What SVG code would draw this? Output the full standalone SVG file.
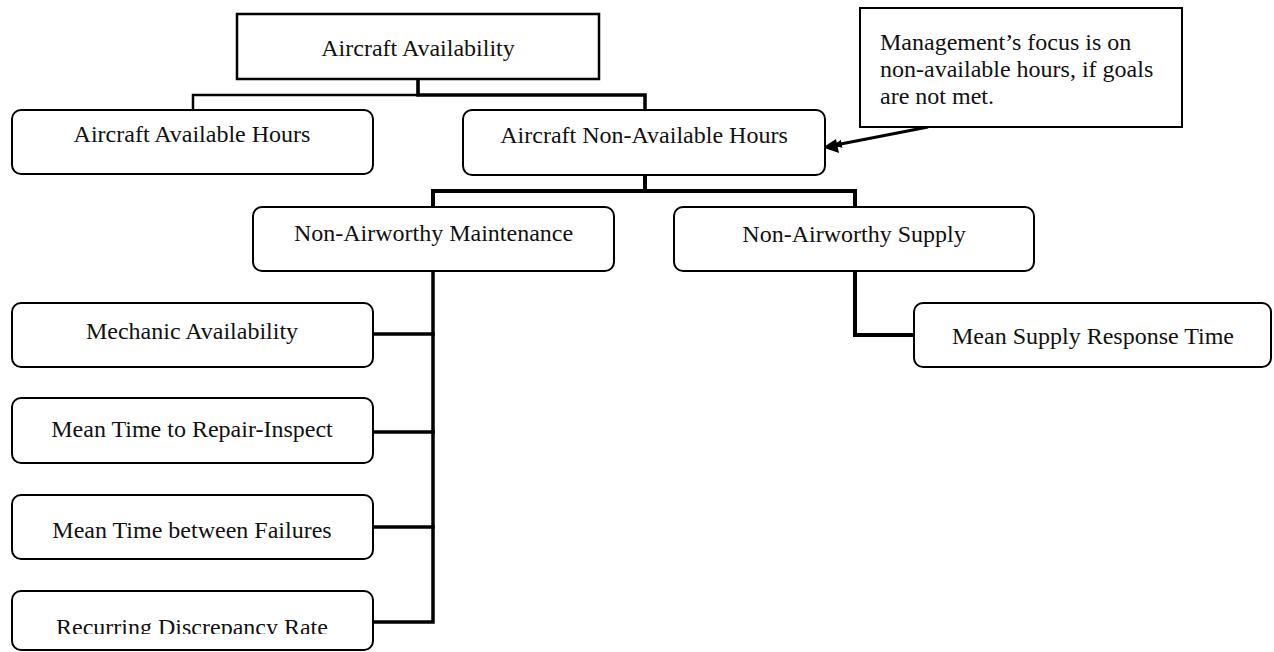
<svg xmlns="http://www.w3.org/2000/svg" width="1274" height="652" viewBox="0 0 1274 652">
<style>
.box{fill:#fff;stroke:#000;stroke-width:2}
.t{font-family:"Liberation Serif","Times New Roman",serif;font-size:24px;fill:#111;text-anchor:middle}
.tl{font-family:"Liberation Serif","Times New Roman",serif;font-size:24px;fill:#111}
.c{fill:none;stroke:#000;stroke-linejoin:miter;stroke-linecap:square}
</style>
<defs>
<marker id="ah" markerWidth="10" markerHeight="8" refX="9" refY="4" orient="auto" markerUnits="userSpaceOnUse" viewBox="0 0 10 8">
<path d="M0,0 L10,4 L0,8 Z" fill="#000"/>
</marker>
<clipPath id="clipR"><rect x="0" y="590" width="400" height="44"/></clipPath>
</defs>
<rect width="1274" height="652" fill="#fff"/>
<g id="connectors">
<path class="c" d="M418,80 V95 H193 V110" stroke-width="2.5"/>
<path class="c" d="M418,80 V95 H645 V110" stroke-width="3.5"/>
<path class="c" d="M645,176 V191 H433 V207" stroke-width="4"/>
<path class="c" d="M645,191 H855 V207" stroke-width="4"/>
<path class="c" d="M855,272 V335 H914" stroke-width="4"/>
<path class="c" d="M433,272 V622 H374" stroke-width="3.5"/>
<path class="c" d="M374,334 H433 M374,432 H433 M374,527 H433" stroke-width="3.5"/>
<line x1="928" y1="127" x2="833" y2="145.5" stroke="#000" stroke-width="3" marker-end="url(#ah)"/>
<path d="M823,147.5 L836,139 L839,153 Z" fill="#000"/>
</g>
<g id="n-availability">
<rect x="237" y="14" width="362" height="65" fill="#fff" stroke="#000" stroke-width="2.5"/>
<text class="t" x="418" y="56">Aircraft Availability</text>
</g>
<g id="n-available-hours">
<rect class="box" x="12" y="110" width="361" height="64" rx="9"/>
<text class="t" x="192" y="142">Aircraft Available Hours</text>
</g>
<g id="n-nonavailable-hours">
<rect class="box" x="463" y="110" width="362" height="65" rx="9"/>
<text class="t" x="644" y="143">Aircraft Non-Available Hours</text>
</g>
<g id="n-note">
<rect x="860" y="8" width="322" height="119" fill="#fff" stroke="#000" stroke-width="2"/>
<text class="tl" x="880" y="50">Management’s focus is on</text>
<text class="tl" x="880" y="77">non-available hours, if goals</text>
<text class="tl" x="880" y="104">are not met.</text>
</g>
<g id="n-maintenance">
<rect class="box" x="253" y="207" width="361" height="64" rx="9"/>
<text class="t" x="433.5" y="241">Non-Airworthy Maintenance</text>
</g>
<g id="n-supply">
<rect class="box" x="674" y="207" width="360" height="64" rx="9"/>
<text class="t" x="854" y="242">Non-Airworthy Supply</text>
</g>
<g id="n-supply-response">
<rect class="box" x="914" y="303" width="357" height="64" rx="9"/>
<text class="t" x="1093" y="344">Mean Supply Response Time</text>
</g>
<g id="n-mechanic">
<rect class="box" x="12" y="303" width="361" height="64" rx="9"/>
<text class="t" x="192" y="339">Mechanic Availability</text>
</g>
<g id="n-mttr">
<rect class="box" x="12" y="398" width="361" height="65" rx="9"/>
<text class="t" x="192" y="437">Mean Time to Repair-Inspect</text>
</g>
<g id="n-mtbf">
<rect class="box" x="12" y="495" width="361" height="64" rx="9"/>
<text class="t" x="192" y="538">Mean Time between Failures</text>
</g>
<g id="n-recurring">
<rect class="box" x="12" y="591" width="361" height="59" rx="9"/>
<text class="t" x="192" y="635" clip-path="url(#clipR)">Recurring Discrepancy Rate</text>
</g>
</svg>
